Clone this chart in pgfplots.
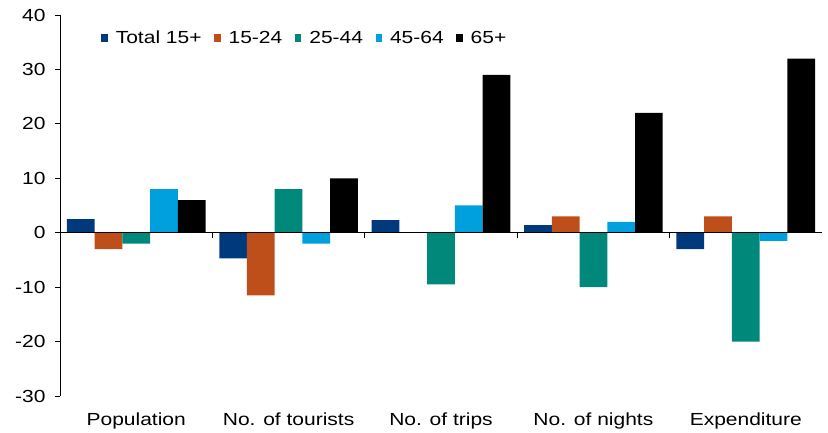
\documentclass[border=0pt]{standalone}
\usepackage{fontspec}
\setmainfont{Liberation Sans}[FakeStretch=1.2]
\usepackage{pgfplots}
\pgfplotsset{compat=1.18}
\definecolor{cTot}{HTML}{003A7D}
\definecolor{cA}{HTML}{BE4F1A}
\definecolor{cB}{HTML}{00897B}
\definecolor{cC}{HTML}{00A0DF}
\begin{document}
\begin{tikzpicture}
\useasboundingbox (-60pt,-37pt) rectangle (768pt,396pt);
\begin{axis}[
  at={(0pt,0pt)}, anchor=south west,
  scale only axis, width=762pt, height=381pt,
  xmin=-0.5, xmax=4.5, ymin=-30, ymax=40,
  ytick={-30,-20,...,40},
  xtick={0,...,4},
  xticklabels={Population, No. of tourists, No. of trips, No. of nights, Expenditure},
  axis y line*=left, axis x line*=bottom,
  axis line style={-, line width=0.8pt},
  x axis line style={draw=none},
  xtick style={draw=none},
  ytick style={black, line width=0.8pt},
  tick align=outside, major tick length=5pt,
  ybar=0pt, bar width=0.182,
  tick label style={font=\fontsize{17.5pt}{21pt}\selectfont},
  xticklabel style={yshift=-8pt},
  yticklabel style={xshift=-6pt},
  /pgf/number format/assume math mode=true,
  legend columns=-1,
  legend style={at={(0.05,0.94)}, anchor=west, draw=none, fill=none,
    font=\fontsize{17.5pt}{21pt}\selectfont,
    /tikz/every even column/.append style={column sep=10.5pt},
    /tikz/every odd column/.append style={column sep=6pt}},
]
\addplot[fill=cTot, draw=none, legend image code/.code={\fill[cTot] (0pt,-4pt) rectangle (6.5pt,4pt);}] coordinates {(0,2.5) (1,-4.7) (2,2.3) (3,1.4) (4,-3)};
\addplot[fill=cA, draw=none, legend image code/.code={\fill[cA] (0pt,-4pt) rectangle (6.5pt,4pt);}] coordinates {(0,-3) (1,-11.5) (2,0) (3,3) (4,3)};
\addplot[fill=cB, draw=none, legend image code/.code={\fill[cB] (0pt,-4pt) rectangle (6.5pt,4pt);}] coordinates {(0,-2) (1,8) (2,-9.5) (3,-10) (4,-20)};
\addplot[fill=cC, draw=none, legend image code/.code={\fill[cC] (0pt,-4pt) rectangle (6.5pt,4pt);}] coordinates {(0,8) (1,-2) (2,5) (3,2) (4,-1.5)};
\addplot[fill=black, draw=none, legend image code/.code={\fill[black] (0pt,-4pt) rectangle (6.5pt,4pt);}] coordinates {(0,6) (1,10) (2,29) (3,22) (4,32)};
\legend{Total 15+, 15-24, 25-44, 45-64, 65+}
\draw[line width=0.8pt] (axis cs:-0.5,0) -- (axis cs:4.5,0);
\pgfplotsinvokeforeach{0.5,1.5,2.5,3.5,4.5}{\draw[line width=0.8pt] (axis cs:#1,0) -- ++(0pt,-5pt);}
\end{axis}
\end{tikzpicture}
\end{document}
